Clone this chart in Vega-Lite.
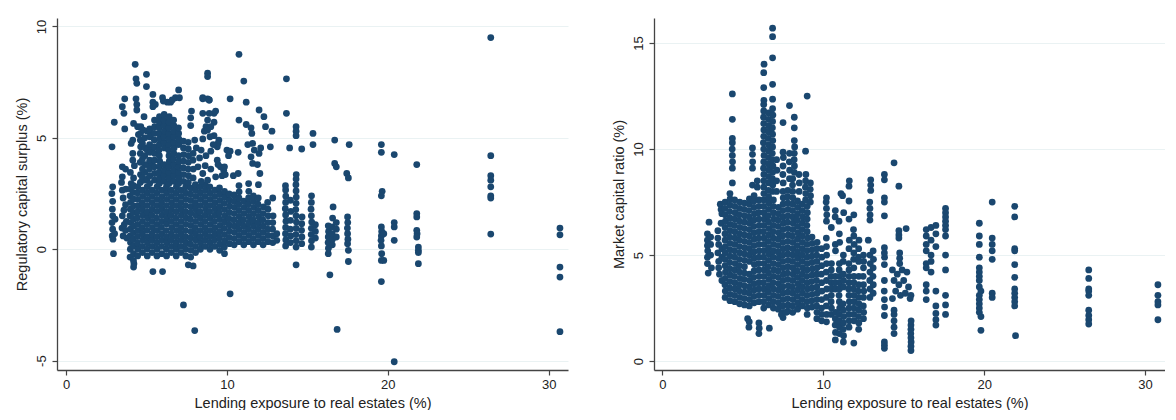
{
"$schema":"https://vega.github.io/schema/vega-lite/v6.json",
"background":"white",
"padding":{"left":14,"top":18,"right":0,"bottom":0},
"spacing":43,
"config":{
"view":{"stroke":null},
"font":"Liberation Sans",
"axis":{"domainColor":"#444","domainWidth":1.3,"tickColor":"#444","tickWidth":1.2,"tickSize":5,"labelFont":"Liberation Sans","labelFontSize":13,"labelColor":"#222","titleFont":"Liberation Sans","titleFontSize":14.5,"titleFontWeight":"normal","titleColor":"#222","gridColor":"#eaf2f3","gridWidth":1}
},
"datasets":{
"rcs":[
{"x":2.86,"y":4.6},{"x":3.0,"y":5.7},{"x":2.9,"y":2.8},{"x":2.85,"y":2.5},{"x":2.9,"y":2.15},{"x":2.88,"y":1.8},{"x":2.9,"y":1.5},{"x":2.86,"y":1.2},{"x":2.9,"y":0.9},{"x":2.87,"y":0.6},{"x":2.92,"y":0.45},{"x":2.95,"y":-0.2},{"x":3.05,"y":1.35},{"x":3.02,"y":0.7},
{"x":3.5,"y":6.4},{"x":3.6,"y":6.1},{"x":3.65,"y":6.75},{"x":3.65,"y":5.4},{"x":3.5,"y":3.7},{"x":3.5,"y":3.25},{"x":3.45,"y":3.0},{"x":3.5,"y":2.65},{"x":3.55,"y":2.3},{"x":3.5,"y":1.5},{"x":3.48,"y":0.95},{"x":3.55,"y":0.6},{"x":3.7,"y":3.6},{"x":3.72,"y":2.7},{"x":3.7,"y":2.0},{"x":3.75,"y":1.25},{"x":3.7,"y":0.85},{"x":3.78,"y":0.5},{"x":3.6,"y":1.75},{"x":3.62,"y":1.1},
{"x":4.3,"y":8.3},{"x":4.35,"y":7.65},{"x":4.4,"y":7.45},{"x":4.35,"y":6.75},{"x":4.4,"y":6.5},{"x":4.4,"y":6.25},{"x":4.2,"y":5.65},{"x":4.45,"y":5.5},{"x":4.5,"y":5.15},{"x":4.15,"y":4.9},{"x":4.15,"y":4.3},{"x":4.15,"y":4.0},{"x":4.05,"y":4.75},{"x":4.25,"y":3.75},{"x":4.0,"y":3.45},{"x":4.2,"y":3.2},{"x":4.05,"y":2.95},
{"x":4.0,"y":2.7},{"x":3.98,"y":2.4},{"x":4.01,"y":2.1},{"x":4.0,"y":1.8},{"x":3.97,"y":1.5},{"x":4.02,"y":1.2},{"x":4.0,"y":0.9},{"x":3.99,"y":0.6},{"x":4.01,"y":0.3},{"x":4.0,"y":0.0},{"x":3.98,"y":-0.35},
{"x":4.2,"y":-0.8},{"x":4.22,"y":-0.65},{"x":4.19,"y":-0.5},{"x":4.2,"y":-0.2},{"x":4.21,"y":0.15},{"x":4.18,"y":0.45},{"x":4.2,"y":0.75},{"x":4.22,"y":1.05},{"x":4.2,"y":1.35},{"x":4.19,"y":1.65},{"x":4.21,"y":1.95},{"x":4.2,"y":2.25},{"x":4.18,"y":2.55},{"x":4.2,"y":2.85},
{"x":4.45,"y":-0.3},{"x":4.46,"y":0.0},{"x":4.44,"y":0.28},{"x":4.45,"y":0.57},{"x":4.47,"y":0.84},{"x":4.45,"y":1.12},{"x":4.43,"y":1.41},{"x":4.45,"y":1.68},{"x":4.46,"y":1.95},{"x":4.45,"y":2.24},{"x":4.44,"y":2.52},{"x":4.46,"y":2.8},
{"x":4.75,"y":-0.15},{"x":4.74,"y":0.13},{"x":4.76,"y":0.41},{"x":4.75,"y":0.7},{"x":4.73,"y":0.97},{"x":4.75,"y":1.25},{"x":4.77,"y":1.53},{"x":4.75,"y":1.81},{"x":4.74,"y":2.09},{"x":4.76,"y":2.37},{"x":4.75,"y":2.65},
{"x":5.05,"y":-0.3},{"x":5.04,"y":0.01},{"x":5.06,"y":0.28},{"x":5.05,"y":0.56},{"x":5.03,"y":0.85},{"x":5.05,"y":1.12},{"x":5.07,"y":1.4},{"x":5.05,"y":1.67},{"x":5.04,"y":1.96},{"x":5.06,"y":2.24},{"x":5.05,"y":2.52},{"x":5.04,"y":2.8},
{"x":5.35,"y":-0.15},{"x":5.36,"y":0.13},{"x":5.34,"y":0.42},{"x":5.35,"y":0.69},{"x":5.37,"y":0.97},{"x":5.35,"y":1.25},{"x":5.33,"y":1.53},{"x":5.35,"y":1.8},{"x":5.36,"y":2.09},{"x":5.35,"y":2.37},{"x":5.34,"y":2.65},{"x":5.4,"y":-1.0},
{"x":5.65,"y":-0.3},{"x":5.66,"y":0.0},{"x":5.64,"y":0.29},{"x":5.65,"y":0.56},{"x":5.67,"y":0.84},{"x":5.65,"y":1.12},{"x":5.63,"y":1.4},{"x":5.65,"y":1.69},{"x":5.66,"y":1.96},{"x":5.65,"y":2.24},{"x":5.64,"y":2.52},{"x":5.66,"y":2.8},
{"x":5.95,"y":-0.2},{"x":5.94,"y":0.13},{"x":5.96,"y":0.41},{"x":5.95,"y":0.69},{"x":5.93,"y":0.98},{"x":5.95,"y":1.25},{"x":5.97,"y":1.53},{"x":5.95,"y":1.81},{"x":5.94,"y":2.09},{"x":5.96,"y":2.36},{"x":5.95,"y":2.65},{"x":6.0,"y":-1.0},
{"x":6.25,"y":-0.3},{"x":6.24,"y":0.0},{"x":6.26,"y":0.28},{"x":6.25,"y":0.56},{"x":6.23,"y":0.84},{"x":6.25,"y":1.13},{"x":6.27,"y":1.4},{"x":6.25,"y":1.68},{"x":6.24,"y":1.96},{"x":6.26,"y":2.24},{"x":6.25,"y":2.52},{"x":6.24,"y":2.8},
{"x":6.55,"y":-0.15},{"x":6.56,"y":0.13},{"x":6.54,"y":0.41},{"x":6.55,"y":0.69},{"x":6.57,"y":0.97},{"x":6.55,"y":1.25},{"x":6.53,"y":1.53},{"x":6.55,"y":1.81},{"x":6.56,"y":2.09},{"x":6.55,"y":2.37},{"x":6.54,"y":2.65},
{"x":6.85,"y":-0.3},{"x":6.86,"y":0.0},{"x":6.84,"y":0.28},{"x":6.85,"y":0.56},{"x":6.87,"y":0.84},{"x":6.85,"y":1.12},{"x":6.83,"y":1.4},{"x":6.85,"y":1.68},{"x":6.86,"y":1.96},{"x":6.85,"y":2.24},{"x":6.84,"y":2.52},{"x":6.86,"y":2.8},
{"x":7.15,"y":-0.15},{"x":7.14,"y":0.13},{"x":7.16,"y":0.41},{"x":7.15,"y":0.69},{"x":7.13,"y":0.97},{"x":7.15,"y":1.25},{"x":7.17,"y":1.53},{"x":7.15,"y":1.81},{"x":7.14,"y":2.09},{"x":7.16,"y":2.37},{"x":7.15,"y":2.65},
{"x":7.45,"y":-0.3},{"x":7.44,"y":0.0},{"x":7.46,"y":0.28},{"x":7.45,"y":0.56},{"x":7.43,"y":0.84},{"x":7.45,"y":1.12},{"x":7.47,"y":1.4},{"x":7.45,"y":1.68},{"x":7.44,"y":1.96},{"x":7.46,"y":2.24},{"x":7.45,"y":2.52},{"x":7.44,"y":2.8},{"x":7.6,"y":-0.7},
{"x":7.75,"y":-0.35},{"x":7.76,"y":-0.05},{"x":7.74,"y":0.23},{"x":7.75,"y":0.51},{"x":7.77,"y":0.79},{"x":7.75,"y":1.07},{"x":7.73,"y":1.35},{"x":7.75,"y":1.63},{"x":7.76,"y":1.91},{"x":7.75,"y":2.19},{"x":7.74,"y":2.47},{"x":7.75,"y":2.75},{"x":7.9,"y":-0.75},
{"x":8.05,"y":-0.15},{"x":8.04,"y":0.13},{"x":8.06,"y":0.41},{"x":8.05,"y":0.69},{"x":8.03,"y":0.97},{"x":8.05,"y":1.25},{"x":8.07,"y":1.53},{"x":8.05,"y":1.81},{"x":8.04,"y":2.09},{"x":8.06,"y":2.37},{"x":8.05,"y":2.65},{"x":8.04,"y":2.9},
{"x":8.35,"y":0.0},{"x":8.36,"y":0.28},{"x":8.34,"y":0.56},{"x":8.35,"y":0.84},{"x":8.37,"y":1.12},{"x":8.35,"y":1.4},{"x":8.33,"y":1.68},{"x":8.35,"y":1.96},{"x":8.36,"y":2.24},{"x":8.35,"y":2.52},{"x":8.34,"y":2.8},
{"x":8.65,"y":0.13},{"x":8.64,"y":0.41},{"x":8.66,"y":0.69},{"x":8.65,"y":0.97},{"x":8.63,"y":1.25},{"x":8.65,"y":1.53},{"x":8.67,"y":1.81},{"x":8.65,"y":2.09},{"x":8.64,"y":2.37},{"x":8.66,"y":2.65},{"x":8.65,"y":2.9},
{"x":8.95,"y":0.0},{"x":8.96,"y":0.28},{"x":8.94,"y":0.56},{"x":8.95,"y":0.84},{"x":8.97,"y":1.12},{"x":8.95,"y":1.4},{"x":8.93,"y":1.68},{"x":8.95,"y":1.96},{"x":8.96,"y":2.24},{"x":8.95,"y":2.52},{"x":8.94,"y":2.8},
{"x":9.25,"y":0.13},{"x":9.24,"y":0.41},{"x":9.26,"y":0.69},{"x":9.25,"y":0.97},{"x":9.23,"y":1.25},{"x":9.25,"y":1.53},{"x":9.27,"y":1.81},{"x":9.25,"y":2.09},{"x":9.24,"y":2.37},{"x":9.26,"y":2.65},
{"x":9.55,"y":-0.05},{"x":9.56,"y":0.23},{"x":9.54,"y":0.51},{"x":9.55,"y":0.79},{"x":9.57,"y":1.07},{"x":9.55,"y":1.35},{"x":9.53,"y":1.63},{"x":9.55,"y":1.91},{"x":9.56,"y":2.19},{"x":9.55,"y":2.47},{"x":9.54,"y":2.75},
{"x":9.85,"y":-0.2},{"x":9.84,"y":0.1},{"x":9.86,"y":0.38},{"x":9.85,"y":0.66},{"x":9.83,"y":0.94},{"x":9.85,"y":1.22},{"x":9.87,"y":1.5},{"x":9.85,"y":1.78},{"x":9.84,"y":2.06},{"x":9.86,"y":2.34},{"x":9.85,"y":2.6},
{"x":10.15,"y":0.25},{"x":10.14,"y":0.53},{"x":10.16,"y":0.81},{"x":10.15,"y":1.09},{"x":10.13,"y":1.37},{"x":10.15,"y":1.65},{"x":10.17,"y":1.93},{"x":10.15,"y":2.21},{"x":10.14,"y":2.49},
{"x":4.62,"y":3.0},{"x":4.63,"y":3.35},{"x":4.61,"y":3.9},{"x":4.62,"y":4.3},{"x":4.64,"y":4.6},{"x":4.62,"y":4.9},{"x":4.63,"y":5.2},{"x":4.65,"y":5.5},
{"x":4.9,"y":3.1},{"x":4.91,"y":3.45},{"x":4.89,"y":3.8},{"x":4.9,"y":4.2},{"x":4.92,"y":4.55},{"x":4.9,"y":5.0},{"x":4.85,"y":5.95},
{"x":4.75,"y":3.2},{"x":5.05,"y":3.15},{"x":4.75,"y":3.6},{"x":5.05,"y":3.8},{"x":4.75,"y":4.05},{"x":5.05,"y":4.45},{"x":4.75,"y":4.75},{"x":5.35,"y":3.85},{"x":5.35,"y":4.5},{"x":5.35,"y":5.2},{"x":5.05,"y":5.3},{"x":4.8,"y":5.35},
{"x":5.2,"y":2.95},{"x":5.21,"y":3.3},{"x":5.19,"y":3.6},{"x":5.2,"y":4.0},{"x":5.22,"y":4.35},{"x":5.2,"y":4.7},{"x":5.21,"y":5.05},{"x":5.2,"y":5.4},
{"x":5.5,"y":3.1},{"x":5.51,"y":3.4},{"x":5.49,"y":3.7},{"x":5.5,"y":4.0},{"x":5.52,"y":4.3},{"x":5.5,"y":4.6},{"x":5.49,"y":4.9},{"x":5.5,"y":5.2},{"x":5.51,"y":5.5},{"x":5.5,"y":5.8},
{"x":5.8,"y":2.95},{"x":5.81,"y":3.2},{"x":5.79,"y":3.45},{"x":5.8,"y":3.7},{"x":5.82,"y":3.95},{"x":5.8,"y":4.2},{"x":5.78,"y":4.45},{"x":5.8,"y":4.7},{"x":5.81,"y":4.95},{"x":5.8,"y":5.2},{"x":5.79,"y":5.45},{"x":5.8,"y":5.7},{"x":5.81,"y":5.95},
{"x":6.1,"y":3.05},{"x":6.09,"y":3.3},{"x":6.11,"y":3.55},{"x":6.1,"y":3.8},{"x":6.12,"y":4.55},{"x":6.1,"y":4.8},{"x":6.09,"y":5.05},{"x":6.11,"y":5.3},{"x":6.1,"y":5.55},{"x":6.09,"y":5.8},{"x":6.1,"y":6.05},
{"x":6.4,"y":2.95},{"x":6.41,"y":3.2},{"x":6.39,"y":3.45},{"x":6.4,"y":3.7},{"x":6.42,"y":3.95},{"x":6.4,"y":4.2},{"x":6.38,"y":4.45},{"x":6.4,"y":4.7},{"x":6.41,"y":4.95},{"x":6.4,"y":5.2},{"x":6.39,"y":5.45},{"x":6.4,"y":5.7},{"x":6.41,"y":5.95},
{"x":6.7,"y":3.05},{"x":6.69,"y":3.3},{"x":6.71,"y":3.55},{"x":6.7,"y":3.8},{"x":6.68,"y":4.05},{"x":6.7,"y":4.3},{"x":6.72,"y":4.55},{"x":6.7,"y":4.8},{"x":6.69,"y":5.05},{"x":6.71,"y":5.3},{"x":6.7,"y":5.55},{"x":6.69,"y":5.8},
{"x":7.0,"y":2.95},{"x":7.01,"y":3.2},{"x":6.99,"y":3.45},{"x":7.0,"y":3.7},{"x":7.02,"y":3.95},{"x":7.0,"y":4.2},{"x":7.0,"y":4.7},{"x":7.01,"y":4.95},{"x":7.0,"y":5.2},{"x":6.99,"y":5.45},
{"x":7.3,"y":3.05},{"x":7.31,"y":3.35},{"x":7.29,"y":3.65},{"x":7.3,"y":3.95},{"x":7.32,"y":4.25},{"x":7.3,"y":4.55},{"x":7.29,"y":4.85},
{"x":7.6,"y":3.0},{"x":7.61,"y":3.3},{"x":7.59,"y":3.6},{"x":7.6,"y":3.9},{"x":7.62,"y":4.2},{"x":7.6,"y":4.5},{"x":7.59,"y":4.8},
{"x":7.9,"y":3.2},{"x":7.91,"y":3.6},{"x":7.89,"y":4.0},{"x":7.9,"y":4.3},
{"x":7.8,"y":6.2},{"x":7.75,"y":5.9},{"x":7.75,"y":5.55},{"x":8.0,"y":4.9},{"x":8.1,"y":4.55},{"x":8.4,"y":4.45},{"x":8.5,"y":4.95},{"x":8.6,"y":5.3},{"x":8.7,"y":5.5},{"x":8.8,"y":5.8},{"x":8.9,"y":6.1},{"x":9.2,"y":6.1},{"x":9.2,"y":5.7},{"x":9.0,"y":5.5},{"x":9.2,"y":5.1},{"x":9.4,"y":4.6},{"x":9.5,"y":4.9},{"x":9.4,"y":4.0},{"x":9.6,"y":3.7},{"x":9.0,"y":3.6},{"x":8.5,"y":3.4},{"x":8.2,"y":3.7},{"x":8.8,"y":3.1},{"x":9.3,"y":3.25},{"x":8.4,"y":3.05},{"x":10.0,"y":4.45},{"x":10.2,"y":4.4},{"x":10.1,"y":4.2},{"x":9.7,"y":3.3},{"x":9.8,"y":3.55},{"x":10.4,"y":3.3},{"x":10.7,"y":3.4},{"x":8.5,"y":6.75},{"x":8.8,"y":6.75},{"x":8.8,"y":7.9},{"x":8.8,"y":7.75},{"x":8.9,"y":6.7},{"x":8.5,"y":6.1},{"x":8.8,"y":5.35},{"x":9.3,"y":6.2},{"x":9.45,"y":3.8},{"x":9.85,"y":3.7},{"x":9.9,"y":3.35},{"x":9.45,"y":4.75},{"x":8.3,"y":4.1},{"x":8.7,"y":4.2},{"x":9.0,"y":4.4},{"x":8.65,"y":3.75},{"x":9.15,"y":4.7},{"x":8.95,"y":5.05},
{"x":10.2,"y":6.75},{"x":10.75,"y":8.75},{"x":11.05,"y":7.55},{"x":11.2,"y":6.6},{"x":12.0,"y":6.25},{"x":12.3,"y":5.95},{"x":12.4,"y":5.5},{"x":10.75,"y":5.8},{"x":11.2,"y":5.6},{"x":11.5,"y":5.45},{"x":11.55,"y":5.2},{"x":12.8,"y":5.3},{"x":10.7,"y":4.35},{"x":11.3,"y":4.7},{"x":11.6,"y":4.75},{"x":11.7,"y":4.45},{"x":12.1,"y":4.55},{"x":12.7,"y":4.6},{"x":11.5,"y":4.15},{"x":11.6,"y":3.85},{"x":11.9,"y":3.8},{"x":12.0,"y":4.3},{"x":12.05,"y":3.4},{"x":12.85,"y":2.3},
{"x":7.0,"y":7.15},{"x":6.8,"y":6.8},{"x":6.5,"y":6.6},{"x":6.0,"y":6.8},{"x":6.3,"y":6.6},{"x":6.6,"y":6.7},{"x":7.05,"y":6.8},{"x":6.05,"y":6.65},{"x":5.0,"y":7.85},{"x":5.0,"y":7.3},{"x":5.4,"y":6.95},{"x":5.4,"y":6.6},{"x":5.4,"y":6.4},{"x":5.55,"y":6.5},{"x":7.3,"y":-2.5},{"x":8.0,"y":-3.65},{"x":10.2,"y":-2.0},{"x":8.5,"y":6.8},{"x":8.9,"y":6.7},
{"x":10.45,"y":0.2},{"x":10.44,"y":0.48},{"x":10.46,"y":0.76},{"x":10.45,"y":1.04},{"x":10.43,"y":1.32},{"x":10.45,"y":1.6},{"x":10.47,"y":1.88},{"x":10.45,"y":2.16},{"x":10.44,"y":2.44},
{"x":10.75,"y":0.34},{"x":10.76,"y":0.62},{"x":10.74,"y":0.9},{"x":10.75,"y":1.18},{"x":10.77,"y":1.46},{"x":10.75,"y":1.74},{"x":10.73,"y":2.02},{"x":10.75,"y":2.3},{"x":10.76,"y":2.58},{"x":10.75,"y":2.86},
{"x":11.05,"y":0.2},{"x":11.04,"y":0.48},{"x":11.06,"y":0.76},{"x":11.05,"y":1.04},{"x":11.03,"y":1.32},{"x":11.05,"y":1.6},{"x":11.07,"y":1.88},{"x":11.05,"y":2.16},
{"x":11.35,"y":0.34},{"x":11.36,"y":0.62},{"x":11.34,"y":0.9},{"x":11.35,"y":1.18},{"x":11.37,"y":1.46},{"x":11.35,"y":1.74},{"x":11.33,"y":2.02},{"x":11.35,"y":2.3},{"x":11.36,"y":2.6},{"x":11.35,"y":2.95},
{"x":11.65,"y":0.2},{"x":11.64,"y":0.48},{"x":11.66,"y":0.76},{"x":11.65,"y":1.04},{"x":11.63,"y":1.32},{"x":11.65,"y":1.6},{"x":11.67,"y":1.88},{"x":11.65,"y":2.16},{"x":11.64,"y":2.4},
{"x":11.95,"y":0.34},{"x":11.96,"y":0.62},{"x":11.94,"y":0.9},{"x":11.95,"y":1.18},{"x":11.97,"y":1.46},{"x":11.95,"y":1.74},{"x":11.93,"y":2.02},{"x":11.95,"y":2.3},{"x":11.96,"y":2.9},
{"x":12.25,"y":0.2},{"x":12.24,"y":0.48},{"x":12.26,"y":0.76},{"x":12.25,"y":1.04},{"x":12.23,"y":1.32},{"x":12.25,"y":1.6},{"x":12.27,"y":1.9},
{"x":12.55,"y":0.34},{"x":12.56,"y":0.62},{"x":12.54,"y":0.9},{"x":12.55,"y":1.2},{"x":12.57,"y":1.5},{"x":12.55,"y":1.8},{"x":12.53,"y":2.1},
{"x":12.85,"y":0.3},{"x":12.86,"y":0.6},{"x":12.84,"y":0.9},{"x":12.85,"y":1.2},{"x":12.87,"y":1.5},{"x":13.1,"y":0.4},{"x":13.1,"y":0.7},
{"x":13.65,"y":0.15},{"x":13.66,"y":0.42},{"x":13.64,"y":0.7},{"x":13.65,"y":0.98},{"x":13.67,"y":1.26},{"x":13.65,"y":1.54},{"x":13.63,"y":1.82},{"x":13.65,"y":2.1},{"x":13.66,"y":2.38},{"x":13.65,"y":2.66},{"x":13.64,"y":2.85},
{"x":13.95,"y":0.3},{"x":13.96,"y":0.6},{"x":13.94,"y":0.9},{"x":13.95,"y":1.3},{"x":13.97,"y":1.7},{"x":13.95,"y":2.2},
{"x":14.3,"y":0.1},{"x":14.31,"y":0.38},{"x":14.29,"y":0.66},{"x":14.3,"y":0.94},{"x":14.32,"y":1.22},{"x":14.3,"y":1.5},{"x":14.28,"y":1.78},{"x":14.3,"y":2.06},{"x":14.31,"y":2.34},{"x":14.3,"y":2.62},{"x":14.29,"y":2.9},{"x":14.3,"y":3.15},{"x":14.31,"y":3.35},{"x":14.3,"y":-0.7},
{"x":14.65,"y":0.25},{"x":14.66,"y":0.55},{"x":14.64,"y":0.85},{"x":14.65,"y":1.15},{"x":14.67,"y":1.45},
{"x":15.25,"y":0.1},{"x":15.26,"y":0.38},{"x":15.24,"y":0.66},{"x":15.25,"y":0.94},{"x":15.27,"y":1.22},{"x":15.25,"y":1.5},{"x":15.23,"y":1.8},{"x":15.25,"y":2.1},{"x":15.26,"y":2.4},{"x":15.5,"y":0.5},{"x":15.5,"y":0.8},{"x":15.5,"y":1.1},
{"x":13.7,"y":7.65},{"x":13.7,"y":6.1},{"x":14.3,"y":5.5},{"x":14.3,"y":5.3},{"x":14.3,"y":5.1},{"x":13.9,"y":4.55},{"x":14.65,"y":4.5},{"x":15.35,"y":5.2},{"x":15.35,"y":4.7},
{"x":16.3,"y":-0.2},{"x":16.31,"y":0.05},{"x":16.29,"y":0.3},{"x":16.3,"y":0.55},{"x":16.32,"y":0.8},{"x":16.3,"y":1.05},{"x":16.4,"y":-1.15},
{"x":16.55,"y":0.2},{"x":16.56,"y":0.45},{"x":16.54,"y":0.7},{"x":16.55,"y":1.0},{"x":16.57,"y":1.4},{"x":16.6,"y":1.9},
{"x":16.7,"y":4.9},{"x":16.7,"y":3.85},{"x":16.8,"y":3.7},{"x":16.8,"y":0.9},{"x":16.8,"y":1.2},{"x":16.8,"y":0.55},{"x":16.85,"y":-3.6},
{"x":17.5,"y":1.45},{"x":17.51,"y":1.2},{"x":17.49,"y":0.95},{"x":17.5,"y":0.7},{"x":17.52,"y":0.45},{"x":17.5,"y":0.25},{"x":17.55,"y":-0.05},{"x":17.55,"y":-0.55},{"x":17.45,"y":3.4},{"x":17.55,"y":3.2},{"x":17.6,"y":4.7},
{"x":19.6,"y":4.7},{"x":19.6,"y":4.35},{"x":19.65,"y":2.6},{"x":19.6,"y":2.4},{"x":19.6,"y":1.0},{"x":19.62,"y":0.8},{"x":19.6,"y":0.6},{"x":19.58,"y":0.4},{"x":19.6,"y":0.15},{"x":19.62,"y":-0.2},{"x":19.6,"y":-0.5},{"x":19.6,"y":-1.45},{"x":19.75,"y":-0.5},{"x":19.75,"y":0.7},
{"x":20.4,"y":4.25},{"x":20.4,"y":1.2},{"x":20.4,"y":1.0},{"x":20.4,"y":0.4},{"x":20.4,"y":-5.05},
{"x":21.8,"y":3.8},{"x":21.8,"y":1.6},{"x":21.8,"y":1.45},{"x":21.8,"y":0.85},{"x":21.82,"y":0.7},{"x":21.8,"y":0.55},{"x":21.9,"y":0.1},{"x":21.9,"y":-0.05},{"x":21.9,"y":-0.15},{"x":21.9,"y":-0.65},
{"x":26.4,"y":9.5},{"x":26.4,"y":4.2},{"x":26.4,"y":3.3},{"x":26.4,"y":3.1},{"x":26.4,"y":2.8},{"x":26.4,"y":2.4},{"x":26.4,"y":2.3},{"x":26.4,"y":0.68},
{"x":30.7,"y":0.95},{"x":30.7,"y":0.65},{"x":30.7,"y":-0.8},{"x":30.7,"y":-1.25},{"x":30.7,"y":-3.7}
],
"mcr":[
{"x":2.9,"y":6.55},{"x":2.8,"y":6.0},{"x":2.8,"y":5.7},{"x":2.8,"y":5.45},{"x":2.82,"y":5.2},{"x":2.8,"y":4.9},{"x":2.8,"y":4.6},{"x":2.85,"y":4.15},{"x":3.0,"y":5.85},{"x":3.0,"y":5.5},{"x":3.0,"y":5.0},{"x":3.05,"y":4.4},{"x":3.6,"y":7.4},{"x":3.65,"y":7.15},{"x":3.7,"y":6.95},{"x":3.45,"y":6.15},{"x":3.45,"y":5.8},{"x":3.5,"y":5.5},{"x":3.45,"y":5.1},{"x":3.5,"y":4.7},{"x":3.5,"y":4.4},{"x":3.55,"y":4.1},{"x":3.7,"y":3.8},{"x":3.65,"y":6.5},{"x":3.7,"y":5.3},{"x":3.7,"y":4.9},
{"x":3.9,"y":3.0},{"x":3.91,"y":3.3},{"x":3.89,"y":3.6},{"x":3.9,"y":3.9},{"x":3.92,"y":4.2},{"x":3.9,"y":4.5},{"x":3.88,"y":4.8},{"x":3.9,"y":5.1},{"x":3.91,"y":5.4},{"x":3.9,"y":5.7},{"x":3.89,"y":6.0},{"x":3.9,"y":6.3},{"x":3.92,"y":6.6},{"x":3.9,"y":6.9},{"x":3.88,"y":7.2},{"x":3.9,"y":7.5},
{"x":4.2,"y":2.85},{"x":4.21,"y":3.15},{"x":4.19,"y":3.45},{"x":4.2,"y":3.75},{"x":4.22,"y":4.05},{"x":4.2,"y":4.35},{"x":4.18,"y":4.65},{"x":4.2,"y":4.95},{"x":4.21,"y":5.25},{"x":4.2,"y":5.55},{"x":4.19,"y":5.85},{"x":4.2,"y":6.15},{"x":4.22,"y":6.45},{"x":4.2,"y":6.75},{"x":4.18,"y":7.05},{"x":4.2,"y":7.35},{"x":4.21,"y":7.65},{"x":4.2,"y":7.9},
{"x":4.5,"y":2.8},{"x":4.49,"y":3.1},{"x":4.51,"y":3.4},{"x":4.5,"y":3.7},{"x":4.48,"y":4.0},{"x":4.5,"y":4.3},{"x":4.52,"y":4.6},{"x":4.5,"y":4.9},{"x":4.49,"y":5.2},{"x":4.5,"y":5.5},{"x":4.51,"y":5.8},{"x":4.5,"y":6.1},{"x":4.48,"y":6.4},{"x":4.5,"y":6.7},{"x":4.52,"y":7.0},{"x":4.5,"y":7.3},{"x":4.49,"y":7.6},
{"x":4.8,"y":2.7},{"x":4.81,"y":3.0},{"x":4.79,"y":3.3},{"x":4.8,"y":3.6},{"x":4.82,"y":3.9},{"x":4.8,"y":4.2},{"x":4.78,"y":4.5},{"x":4.8,"y":4.8},{"x":4.81,"y":5.1},{"x":4.8,"y":5.4},{"x":4.79,"y":5.7},{"x":4.8,"y":6.0},{"x":4.82,"y":6.3},{"x":4.8,"y":6.6},{"x":4.78,"y":6.9},{"x":4.8,"y":7.2},{"x":4.81,"y":7.5},
{"x":5.1,"y":2.65},{"x":5.09,"y":2.95},{"x":5.11,"y":3.25},{"x":5.1,"y":3.55},{"x":5.08,"y":3.85},{"x":5.1,"y":4.15},{"x":5.1,"y":4.45},{"x":5.11,"y":4.75},{"x":5.1,"y":5.05},{"x":5.12,"y":5.35},{"x":5.1,"y":5.65},{"x":5.09,"y":5.95},{"x":5.1,"y":6.25},{"x":5.11,"y":6.55},{"x":5.1,"y":6.85},{"x":5.08,"y":7.15},{"x":5.1,"y":7.45},
{"x":5.4,"y":2.6},{"x":5.41,"y":2.9},{"x":5.39,"y":3.2},{"x":5.4,"y":3.5},{"x":5.42,"y":3.8},{"x":5.4,"y":4.1},{"x":5.41,"y":4.7},{"x":5.4,"y":5.0},{"x":5.41,"y":5.3},{"x":5.4,"y":5.6},{"x":5.39,"y":5.9},{"x":5.4,"y":6.2},{"x":5.42,"y":6.5},{"x":5.4,"y":6.8},{"x":5.38,"y":7.1},{"x":5.4,"y":7.4},{"x":5.41,"y":7.65},
{"x":5.7,"y":2.75},{"x":5.69,"y":3.05},{"x":5.71,"y":3.35},{"x":5.7,"y":3.65},{"x":5.68,"y":3.95},{"x":5.7,"y":4.25},{"x":5.72,"y":4.55},{"x":5.7,"y":4.85},{"x":5.69,"y":5.15},{"x":5.7,"y":5.45},{"x":5.71,"y":5.75},{"x":5.7,"y":6.05},{"x":5.68,"y":6.35},{"x":5.7,"y":6.65},{"x":5.72,"y":6.95},{"x":5.7,"y":7.25},{"x":5.69,"y":7.55},{"x":5.7,"y":7.8},
{"x":6.0,"y":2.8},{"x":6.01,"y":3.1},{"x":5.99,"y":3.4},{"x":6.0,"y":3.7},{"x":6.02,"y":4.0},{"x":6.0,"y":4.3},{"x":5.98,"y":4.6},{"x":6.0,"y":4.9},{"x":6.01,"y":5.2},{"x":6.0,"y":5.5},{"x":5.99,"y":5.8},{"x":6.0,"y":6.1},{"x":6.02,"y":6.4},{"x":6.0,"y":6.7},{"x":5.98,"y":7.0},{"x":6.0,"y":7.3},{"x":6.01,"y":7.6},
{"x":6.3,"y":2.5},{"x":6.29,"y":2.8},{"x":6.31,"y":3.1},{"x":6.3,"y":3.4},{"x":6.28,"y":3.7},{"x":6.3,"y":4.0},{"x":6.32,"y":4.3},{"x":6.3,"y":4.6},{"x":6.29,"y":4.9},{"x":6.3,"y":5.2},{"x":6.31,"y":5.5},{"x":6.3,"y":5.8},{"x":6.28,"y":6.1},{"x":6.3,"y":6.4},{"x":6.32,"y":6.7},{"x":6.3,"y":7.0},{"x":6.29,"y":7.3},{"x":6.3,"y":7.6},{"x":6.31,"y":7.9},{"x":6.3,"y":8.2},
{"x":6.6,"y":2.65},{"x":6.61,"y":2.95},{"x":6.59,"y":3.25},{"x":6.6,"y":3.55},{"x":6.62,"y":3.85},{"x":6.6,"y":4.15},{"x":6.58,"y":4.45},{"x":6.6,"y":4.75},{"x":6.61,"y":5.05},{"x":6.6,"y":5.35},{"x":6.59,"y":5.65},{"x":6.6,"y":5.95},{"x":6.62,"y":6.25},{"x":6.6,"y":6.55},{"x":6.58,"y":6.85},{"x":6.6,"y":7.15},{"x":6.61,"y":7.45},{"x":6.6,"y":7.75},{"x":6.59,"y":8.05},{"x":6.6,"y":8.4},
{"x":6.9,"y":2.5},{"x":6.89,"y":2.8},{"x":6.91,"y":3.1},{"x":6.9,"y":3.4},{"x":6.88,"y":3.7},{"x":6.9,"y":4.0},{"x":6.92,"y":4.3},{"x":6.9,"y":4.6},{"x":6.89,"y":4.9},{"x":6.9,"y":5.2},{"x":6.91,"y":5.5},{"x":6.9,"y":5.8},{"x":6.88,"y":6.1},{"x":6.9,"y":6.4},{"x":6.92,"y":6.7},{"x":6.9,"y":7.0},{"x":6.89,"y":7.3},{"x":6.9,"y":7.6},
{"x":7.2,"y":2.45},{"x":7.21,"y":2.75},{"x":7.19,"y":3.05},{"x":7.2,"y":3.35},{"x":7.22,"y":3.65},{"x":7.2,"y":3.95},{"x":7.18,"y":4.25},{"x":7.2,"y":4.55},{"x":7.21,"y":4.85},{"x":7.2,"y":5.15},{"x":7.19,"y":5.45},{"x":7.2,"y":5.75},{"x":7.22,"y":6.05},{"x":7.2,"y":6.35},{"x":7.18,"y":6.65},{"x":7.2,"y":6.95},{"x":7.21,"y":7.25},
{"x":7.5,"y":2.3},{"x":7.49,"y":2.6},{"x":7.51,"y":2.9},{"x":7.5,"y":3.2},{"x":7.48,"y":3.5},{"x":7.5,"y":3.8},{"x":7.52,"y":4.1},{"x":7.5,"y":4.4},{"x":7.49,"y":4.7},{"x":7.5,"y":5.0},{"x":7.51,"y":5.3},{"x":7.5,"y":5.6},{"x":7.48,"y":5.9},{"x":7.5,"y":6.2},{"x":7.52,"y":6.5},{"x":7.5,"y":6.8},{"x":7.49,"y":7.1},{"x":7.5,"y":7.4},{"x":7.51,"y":7.7},
{"x":7.8,"y":2.35},{"x":7.81,"y":2.65},{"x":7.79,"y":2.95},{"x":7.8,"y":3.25},{"x":7.82,"y":3.55},{"x":7.8,"y":3.85},{"x":7.78,"y":4.15},{"x":7.8,"y":4.45},{"x":7.81,"y":4.75},{"x":7.8,"y":5.05},{"x":7.79,"y":5.35},{"x":7.8,"y":5.65},{"x":7.82,"y":5.95},{"x":7.8,"y":6.25},{"x":7.78,"y":6.55},{"x":7.8,"y":6.85},{"x":7.81,"y":7.15},{"x":7.8,"y":7.45},{"x":7.79,"y":7.75},{"x":7.8,"y":8.05},
{"x":8.1,"y":2.3},{"x":8.09,"y":2.6},{"x":8.11,"y":2.9},{"x":8.1,"y":3.2},{"x":8.08,"y":3.5},{"x":8.1,"y":3.8},{"x":8.12,"y":4.1},{"x":8.1,"y":4.4},{"x":8.09,"y":4.7},{"x":8.1,"y":5.0},{"x":8.11,"y":5.3},{"x":8.1,"y":5.6},{"x":8.08,"y":5.9},{"x":8.1,"y":6.2},{"x":8.12,"y":6.5},{"x":8.1,"y":6.8},{"x":8.09,"y":7.1},{"x":8.1,"y":7.4},{"x":8.11,"y":7.7},{"x":8.1,"y":8.0},{"x":8.09,"y":8.3},{"x":8.1,"y":8.6},
{"x":8.4,"y":2.45},{"x":8.41,"y":2.75},{"x":8.39,"y":3.05},{"x":8.4,"y":3.35},{"x":8.42,"y":3.65},{"x":8.4,"y":3.95},{"x":8.38,"y":4.25},{"x":8.4,"y":4.55},{"x":8.41,"y":4.85},{"x":8.4,"y":5.15},{"x":8.39,"y":5.45},{"x":8.4,"y":5.75},{"x":8.42,"y":6.05},{"x":8.4,"y":6.35},{"x":8.38,"y":6.65},{"x":8.4,"y":6.95},{"x":8.41,"y":7.25},{"x":8.4,"y":7.55},
{"x":8.7,"y":2.6},{"x":8.69,"y":2.9},{"x":8.71,"y":3.2},{"x":8.7,"y":3.5},{"x":8.68,"y":3.8},{"x":8.7,"y":4.1},{"x":8.72,"y":4.4},{"x":8.7,"y":4.7},{"x":8.69,"y":5.0},{"x":8.7,"y":5.3},{"x":8.71,"y":5.6},{"x":8.7,"y":5.9},{"x":8.68,"y":6.2},{"x":8.7,"y":6.5},{"x":8.72,"y":6.8},{"x":8.7,"y":7.1},{"x":8.69,"y":7.4},
{"x":9.0,"y":2.2},{"x":9.01,"y":2.5},{"x":8.99,"y":2.8},{"x":9.0,"y":3.1},{"x":9.02,"y":3.4},{"x":9.0,"y":3.7},{"x":8.98,"y":4.0},{"x":9.0,"y":4.3},{"x":9.01,"y":4.6},{"x":9.0,"y":4.9},{"x":8.99,"y":5.2},{"x":9.0,"y":5.5},{"x":9.02,"y":5.8},{"x":9.0,"y":6.1},{"x":8.98,"y":6.4},{"x":9.0,"y":6.7},{"x":9.01,"y":7.0},{"x":9.0,"y":7.3},
{"x":9.3,"y":2.55},{"x":9.29,"y":2.85},{"x":9.31,"y":3.15},{"x":9.3,"y":3.45},{"x":9.28,"y":3.75},{"x":9.3,"y":4.05},{"x":9.32,"y":4.35},{"x":9.3,"y":4.65},{"x":9.29,"y":4.95},{"x":9.3,"y":5.25},{"x":9.31,"y":5.55},{"x":9.3,"y":5.85},
{"x":9.6,"y":2.0},{"x":9.61,"y":2.3},{"x":9.59,"y":2.6},{"x":9.6,"y":2.9},{"x":9.62,"y":3.2},{"x":9.6,"y":3.5},{"x":9.58,"y":3.8},{"x":9.6,"y":4.1},{"x":9.61,"y":4.4},{"x":9.6,"y":4.7},{"x":9.59,"y":5.0},{"x":9.6,"y":5.3},{"x":9.62,"y":5.6},
{"x":9.9,"y":1.9},{"x":9.91,"y":2.2},{"x":9.89,"y":2.5},{"x":9.9,"y":2.9},{"x":9.92,"y":3.3},{"x":9.9,"y":3.7},{"x":9.88,"y":4.1},{"x":9.9,"y":4.5},{"x":9.91,"y":4.9},{"x":9.9,"y":5.3},
{"x":5.3,"y":2.0},{"x":5.4,"y":1.85},{"x":5.38,"y":1.6},{"x":6.0,"y":1.8},{"x":6.02,"y":1.55},{"x":6.0,"y":1.3},{"x":6.65,"y":1.55},{"x":7.5,"y":2.05},{"x":7.4,"y":2.2},{"x":7.7,"y":2.3},
{"x":4.35,"y":8.4},{"x":4.35,"y":9.1},{"x":4.36,"y":9.4},{"x":4.35,"y":9.7},{"x":4.34,"y":10.0},{"x":4.35,"y":10.3},{"x":4.35,"y":10.5},{"x":4.35,"y":11.4},{"x":4.35,"y":12.6},
{"x":5.6,"y":9.1},{"x":5.61,"y":9.4},{"x":5.6,"y":9.75},{"x":5.6,"y":10.05},{"x":5.6,"y":8.3},{"x":5.9,"y":8.5},{"x":5.9,"y":8.2},
{"x":6.3,"y":8.5},{"x":6.31,"y":8.8},{"x":6.29,"y":9.1},{"x":6.3,"y":9.4},{"x":6.32,"y":9.7},{"x":6.3,"y":10.0},{"x":6.28,"y":10.3},{"x":6.3,"y":10.6},{"x":6.31,"y":10.9},{"x":6.3,"y":11.2},{"x":6.29,"y":11.5},{"x":6.3,"y":11.8},{"x":6.3,"y":12.1},{"x":6.31,"y":12.3},{"x":6.3,"y":12.9},{"x":6.3,"y":13.6},{"x":6.32,"y":14.0},
{"x":6.6,"y":8.7},{"x":6.61,"y":9.0},{"x":6.59,"y":9.3},{"x":6.6,"y":9.6},{"x":6.62,"y":9.9},{"x":6.6,"y":10.2},{"x":6.58,"y":10.5},{"x":6.6,"y":10.8},{"x":6.61,"y":11.1},{"x":6.6,"y":11.4},{"x":6.6,"y":11.7},
{"x":6.85,"y":8.0},{"x":6.86,"y":8.3},{"x":6.84,"y":8.6},{"x":6.85,"y":8.9},{"x":6.87,"y":9.2},{"x":6.85,"y":9.5},{"x":6.83,"y":9.8},{"x":6.85,"y":10.1},{"x":6.86,"y":10.4},{"x":6.85,"y":10.7},{"x":6.84,"y":11.0},{"x":6.85,"y":11.3},{"x":6.87,"y":11.6},{"x":6.85,"y":11.9},{"x":6.85,"y":12.35},{"x":6.85,"y":13.05},{"x":6.85,"y":14.3},{"x":6.85,"y":15.3},{"x":6.85,"y":15.7},
{"x":7.1,"y":8.0},{"x":7.1,"y":8.5},{"x":7.12,"y":9.0},{"x":7.1,"y":9.5},
{"x":7.5,"y":8.0},{"x":7.51,"y":8.4},{"x":7.49,"y":8.8},{"x":7.5,"y":9.2},{"x":7.52,"y":9.6},{"x":7.5,"y":9.85},{"x":7.5,"y":11.25},
{"x":7.9,"y":8.6},{"x":7.91,"y":9.0},{"x":7.89,"y":9.4},{"x":7.9,"y":9.8},{"x":7.9,"y":12.05},
{"x":8.2,"y":8.9},{"x":8.21,"y":9.2},{"x":8.19,"y":9.5},{"x":8.2,"y":9.8},{"x":8.22,"y":10.1},{"x":8.2,"y":10.4},{"x":8.2,"y":11.0},{"x":8.2,"y":11.5},
{"x":8.5,"y":8.0},{"x":8.51,"y":8.4},{"x":8.49,"y":8.8},
{"x":8.9,"y":7.6},{"x":8.91,"y":7.9},{"x":8.89,"y":8.2},{"x":8.9,"y":8.5},{"x":8.92,"y":8.8},{"x":8.9,"y":9.9},{"x":9.0,"y":12.5},
{"x":9.2,"y":7.5},{"x":9.21,"y":7.8},{"x":9.19,"y":8.1},{"x":9.2,"y":8.4},
{"x":10.2,"y":1.85},{"x":10.21,"y":2.2},{"x":10.19,"y":2.6},{"x":10.2,"y":3.0},{"x":10.22,"y":3.4},{"x":10.2,"y":3.8},{"x":10.18,"y":4.2},{"x":10.2,"y":4.6},{"x":10.21,"y":5.0},{"x":10.2,"y":5.4},{"x":10.19,"y":5.8},{"x":10.2,"y":6.6},{"x":10.22,"y":6.9},{"x":10.2,"y":7.2},{"x":10.18,"y":7.5},{"x":10.2,"y":7.7},
{"x":10.5,"y":2.2},{"x":10.51,"y":2.5},{"x":10.49,"y":2.8},{"x":10.5,"y":3.1},{"x":10.52,"y":3.4},{"x":10.5,"y":3.7},{"x":10.48,"y":4.0},{"x":10.5,"y":4.3},{"x":10.51,"y":4.6},{"x":10.5,"y":6.3},
{"x":10.75,"y":1.0},{"x":10.76,"y":1.35},{"x":10.74,"y":1.7},{"x":10.75,"y":2.0},{"x":10.77,"y":2.3},{"x":10.75,"y":3.4},{"x":10.73,"y":3.7},{"x":10.75,"y":4.0},{"x":10.76,"y":5.2},{"x":10.75,"y":5.5},{"x":10.74,"y":6.8},{"x":10.75,"y":7.1},
{"x":11.0,"y":1.3},{"x":11.01,"y":1.6},{"x":10.99,"y":1.9},{"x":11.0,"y":2.2},{"x":11.02,"y":2.5},{"x":11.0,"y":2.8},{"x":10.98,"y":3.1},{"x":11.0,"y":3.4},{"x":11.01,"y":3.7},{"x":11.0,"y":4.0},{"x":10.99,"y":4.3},{"x":11.0,"y":4.6},{"x":11.02,"y":5.6},{"x":11.0,"y":6.0},{"x":10.98,"y":6.6},{"x":11.1,"y":7.9},
{"x":11.25,"y":0.9},{"x":11.26,"y":1.2},{"x":11.24,"y":1.5},{"x":11.25,"y":1.8},{"x":11.27,"y":2.1},{"x":11.25,"y":2.4},{"x":11.23,"y":2.7},{"x":11.25,"y":3.5},{"x":11.26,"y":3.8},{"x":11.25,"y":4.1},{"x":11.24,"y":4.7},{"x":11.25,"y":5.0},{"x":11.27,"y":7.0},{"x":11.2,"y":7.8},
{"x":11.6,"y":1.6},{"x":11.61,"y":1.9},{"x":11.59,"y":2.2},{"x":11.6,"y":2.5},{"x":11.62,"y":2.8},{"x":11.6,"y":3.1},{"x":11.58,"y":3.4},{"x":11.6,"y":3.7},{"x":11.61,"y":4.0},{"x":11.6,"y":4.3},{"x":11.59,"y":4.6},{"x":11.6,"y":5.3},{"x":11.62,"y":5.7},{"x":11.6,"y":6.7},{"x":11.6,"y":7.55},{"x":11.6,"y":8.25},{"x":11.62,"y":8.5},
{"x":11.9,"y":0.85},{"x":11.91,"y":1.9},{"x":11.89,"y":2.2},{"x":11.9,"y":2.5},{"x":11.92,"y":2.8},{"x":11.9,"y":3.1},{"x":11.88,"y":3.4},{"x":11.9,"y":3.7},{"x":11.91,"y":4.0},{"x":11.9,"y":4.4},{"x":11.89,"y":4.8},{"x":11.9,"y":5.1},{"x":11.92,"y":5.5},{"x":11.9,"y":5.9},{"x":11.88,"y":6.2},{"x":11.9,"y":6.9},
{"x":12.2,"y":1.5},{"x":12.21,"y":1.8},{"x":12.19,"y":2.1},{"x":12.2,"y":2.4},{"x":12.22,"y":2.7},{"x":12.2,"y":3.0},{"x":12.18,"y":3.3},{"x":12.2,"y":3.6},{"x":12.21,"y":4.0},{"x":12.2,"y":4.7},{"x":12.19,"y":4.9},{"x":12.2,"y":5.3},{"x":12.22,"y":5.7},
{"x":12.5,"y":2.0},{"x":12.51,"y":2.3},{"x":12.49,"y":2.6},{"x":12.5,"y":3.0},{"x":12.52,"y":3.3},{"x":12.5,"y":3.6},{"x":12.48,"y":4.0},{"x":12.5,"y":4.4},{"x":12.51,"y":4.7},{"x":12.5,"y":5.0},
{"x":12.9,"y":3.0},{"x":12.91,"y":3.4},{"x":12.89,"y":3.8},{"x":12.9,"y":4.2},{"x":12.92,"y":4.6},{"x":12.9,"y":5.0},{"x":12.8,"y":5.7},{"x":12.9,"y":6.65},{"x":12.91,"y":6.9},{"x":12.9,"y":7.2},{"x":12.89,"y":7.5},{"x":12.95,"y":8.05},{"x":12.95,"y":8.3},{"x":12.95,"y":8.55},
{"x":13.1,"y":3.2},{"x":13.11,"y":3.6},{"x":13.09,"y":4.0},{"x":13.1,"y":4.4},{"x":13.12,"y":4.8},{"x":13.1,"y":5.2},
{"x":13.8,"y":0.6},{"x":13.8,"y":0.75},{"x":13.8,"y":0.9},{"x":13.8,"y":2.15},{"x":13.81,"y":2.55},{"x":13.8,"y":2.9},{"x":13.79,"y":3.3},{"x":13.8,"y":3.8},{"x":13.8,"y":4.55},{"x":13.81,"y":4.9},{"x":13.8,"y":5.1},{"x":13.8,"y":5.35},{"x":13.8,"y":6.85},{"x":13.8,"y":7.5},{"x":13.8,"y":7.7},{"x":13.8,"y":8.55},{"x":13.8,"y":8.8},
{"x":14.4,"y":9.35},{"x":14.4,"y":1.3},{"x":14.4,"y":1.6},{"x":14.4,"y":1.9},{"x":14.4,"y":2.2},{"x":14.4,"y":2.4},
{"x":14.7,"y":8.25},{"x":14.7,"y":6.15},{"x":14.7,"y":5.95},{"x":14.7,"y":5.8},{"x":14.75,"y":5.1},{"x":14.75,"y":4.85},{"x":14.75,"y":4.6},
{"x":14.3,"y":4.3},{"x":14.6,"y":4.1},{"x":14.9,"y":4.3},{"x":15.2,"y":4.2},{"x":14.4,"y":3.8},{"x":14.7,"y":3.6},{"x":15.0,"y":3.8},{"x":15.3,"y":3.5},{"x":14.5,"y":3.3},{"x":14.8,"y":3.1},{"x":15.1,"y":3.2},{"x":14.3,"y":2.95},{"x":15.4,"y":2.95},
{"x":15.15,"y":6.25},
{"x":15.45,"y":0.5},{"x":15.45,"y":0.7},{"x":15.46,"y":0.9},{"x":15.45,"y":1.1},{"x":15.44,"y":1.3},{"x":15.45,"y":1.5},{"x":15.45,"y":1.7},{"x":15.46,"y":1.9},{"x":15.45,"y":3.1},
{"x":16.4,"y":6.2},{"x":16.4,"y":5.9},{"x":16.4,"y":5.5},{"x":16.4,"y":5.2},{"x":16.4,"y":4.6},{"x":16.4,"y":4.4},{"x":16.4,"y":3.6},{"x":16.4,"y":3.3},{"x":16.4,"y":2.9},
{"x":16.7,"y":6.3},{"x":16.7,"y":5.7},{"x":16.7,"y":5.0},{"x":16.7,"y":4.7},{"x":16.7,"y":4.2},
{"x":17.0,"y":6.4},{"x":17.0,"y":6.0},{"x":17.0,"y":5.4},{"x":17.0,"y":3.3},{"x":17.0,"y":2.6},{"x":17.0,"y":2.25},{"x":17.0,"y":1.95},{"x":17.0,"y":1.7},
{"x":17.6,"y":7.2},{"x":17.6,"y":7.0},{"x":17.6,"y":6.8},{"x":17.6,"y":6.6},{"x":17.6,"y":6.4},{"x":17.6,"y":6.2},{"x":17.6,"y":5.9},{"x":17.6,"y":5.0},{"x":17.6,"y":4.3},{"x":17.6,"y":3.1},{"x":17.6,"y":2.65},{"x":17.6,"y":2.2},
{"x":19.7,"y":6.5},{"x":19.7,"y":5.9},{"x":19.7,"y":5.5},{"x":19.7,"y":4.9},{"x":19.7,"y":4.4},{"x":19.7,"y":4.2},{"x":19.7,"y":4.0},{"x":19.7,"y":3.8},{"x":19.7,"y":3.5},{"x":19.7,"y":3.1},{"x":19.7,"y":2.9},{"x":19.7,"y":2.7},{"x":19.7,"y":2.5},{"x":19.7,"y":2.3},{"x":19.8,"y":1.45},{"x":19.8,"y":3.3},{"x":19.8,"y":2.1},
{"x":20.5,"y":7.5},{"x":20.5,"y":5.8},{"x":20.5,"y":5.5},{"x":20.5,"y":5.2},{"x":20.5,"y":4.8},{"x":20.5,"y":3.2},{"x":20.5,"y":3.0},
{"x":21.9,"y":7.3},{"x":21.9,"y":6.8},{"x":21.9,"y":5.3},{"x":21.9,"y":5.2},{"x":21.9,"y":4.55},{"x":21.9,"y":3.95},{"x":21.9,"y":3.4},{"x":21.9,"y":3.2},{"x":21.9,"y":3.0},{"x":21.9,"y":2.8},{"x":21.9,"y":2.6},{"x":21.95,"y":1.2},
{"x":26.5,"y":4.3},{"x":26.5,"y":3.9},{"x":26.5,"y":3.4},{"x":26.5,"y":3.3},{"x":26.5,"y":3.1},{"x":26.5,"y":2.4},{"x":26.5,"y":2.15},{"x":26.5,"y":1.95},{"x":26.5,"y":1.75},
{"x":30.8,"y":3.6},{"x":30.8,"y":3.1},{"x":30.8,"y":2.8},{"x":30.8,"y":2.65},{"x":30.8,"y":1.95}
]
},
"hconcat":[
{
"width":511,"height":352,
"data":{"name":"rcs"},
"mark":{"type":"circle","size":46,"color":"#1a476f","opacity":1},
"encoding":{
"x":{"field":"x","type":"quantitative","scale":{"domain":[-0.56,31.2],"nice":false,"zero":false},"axis":{"values":[0,10,20,30],"grid":false,"title":"Lending exposure to real estates (%)","labelPadding":3,"titlePadding":5}},
"y":{"field":"y","type":"quantitative","scale":{"domain":[-5.42,10.38],"nice":false,"zero":false},"axis":{"values":[-5,0,5,10],"grid":true,"title":"Regulatory capital surplus (%)","labelAngle":-90,"labelAlign":"center","labelBaseline":"bottom","labelPadding":4,"titlePadding":6,"labelExpr":"datum.value < 0 ? '-' + (-datum.value) : '' + datum.value"}}
}
},
{
"width":511,"height":352,
"data":{"name":"mcr"},
"mark":{"type":"circle","size":46,"color":"#1a476f","opacity":1},
"encoding":{
"x":{"field":"x","type":"quantitative","scale":{"domain":[-0.52,31.24],"nice":false,"zero":false},"axis":{"values":[0,10,20,30],"grid":false,"title":"Lending exposure to real estates (%)","labelPadding":3,"titlePadding":5}},
"y":{"field":"y","type":"quantitative","scale":{"domain":[-0.42,16.18],"nice":false,"zero":false},"axis":{"values":[0,5,10,15],"grid":true,"title":"Market capital ratio (%)","labelAngle":-90,"labelAlign":"center","labelBaseline":"bottom","labelPadding":4,"titlePadding":6}}
}
}
]
}
